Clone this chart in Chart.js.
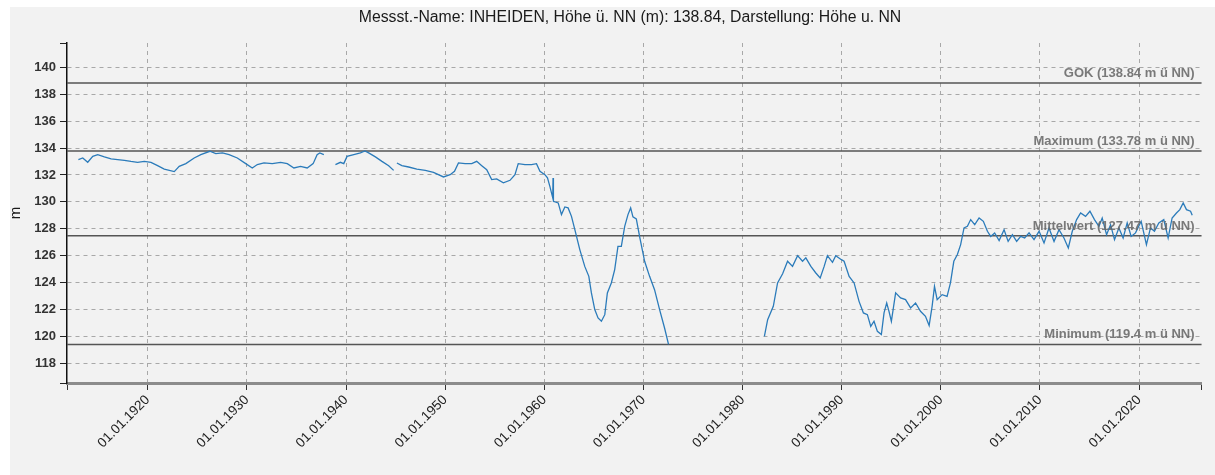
<!DOCTYPE html>
<html>
<head>
<meta charset="utf-8">
<title>Grundwasser INHEIDEN</title>
<script src="https://cdn.jsdelivr.net/npm/chart.js@4.4.1/dist/chart.umd.min.js"></script>
<style>
  html, body { margin: 0; padding: 0; background: #fff; }
  #wrap { width: 1215px; height: 475px; }
</style>
</head>
<body>
<div id="wrap"><canvas id="chart" width="1215" height="475"></canvas></div>
<script>
// Messwerte (Jahr als Dezimalzahl, Höhe in m ü NN), null = Lücke
const dates = [
  1913.0, 1913.44, 1913.94, 1914.45, 1914.95, 1915.62, 1916.3, 1916.96, 1917.64, 1918.3,
  1918.97, 1919.65, 1920.32, 1920.99, 1921.66, 1922.67, 1923.17, 1923.84, 1924.68, 1925.35,
  1926.26, 1926.86, 1927.53, 1928.2, 1929.03, 1929.88, 1930.54, 1931.05, 1931.72, 1932.56,
  1933.4, 1934.07, 1934.74, 1935.41, 1936.08, 1936.68, 1937.08, 1937.35, 1937.76, 1938.3,
  1938.93, 1939.43, 1939.77, 1940.1, 1940.78, 1941.45, 1941.9, 1942.28, 1942.96, 1943.62,
  1944.3, 1944.8, 1944.95, 1945.13, 1945.63, 1946.31, 1947.14, 1947.99, 1948.82, 1949.83,
  1950.5, 1950.94, 1951.34, 1952.01, 1952.68, 1953.18, 1953.69, 1954.19, 1954.69, 1955.19,
  1955.87, 1956.54, 1957.04, 1957.37, 1958.05, 1958.71, 1959.21, 1959.56, 1960.06, 1960.32,
  1960.56, 1960.85, 1960.88, 1960.92, 1961.4, 1961.73, 1962.07, 1962.4, 1962.74, 1963.08,
  1963.58, 1964.08, 1964.49, 1964.75, 1965.09, 1965.42, 1965.76, 1966.1, 1966.36, 1966.76,
  1967.1, 1967.43, 1967.77, 1968.11, 1968.44, 1968.71, 1968.94, 1969.28, 1969.61, 1970.12,
  1970.62, 1971.12, 1971.63, 1972.13, 1972.53, 1977.0,
  1982.2, 1982.53, 1983.1, 1983.53, 1984.04, 1984.54, 1985.04, 1985.55, 1986.05, 1986.38,
  1986.89, 1987.39, 1987.83, 1988.23, 1988.56, 1989.07, 1989.4, 1989.97, 1990.24, 1990.75,
  1991.25, 1991.75, 1992.19, 1992.59, 1992.93, 1993.26, 1993.6, 1994.0, 1994.27, 1994.54,
  1994.77, 1995.01, 1995.44, 1995.94, 1996.44, 1996.95, 1997.45, 1997.95, 1998.45, 1998.82,
  1999.12, 1999.36, 1999.63, 2000.13, 2000.63, 2000.97, 2001.31, 2001.67, 2002.0, 2002.34,
  2002.68, 2003.01, 2003.42, 2003.86, 2004.29, 2004.7, 2005.03, 2005.43, 2005.88, 2006.38,
  2006.79, 2007.22, 2007.65, 2008.06, 2008.46, 2008.9, 2009.4, 2009.91, 2010.41, 2010.91,
  2011.42, 2011.92, 2012.42, 2012.86, 2013.26, 2013.7, 2014.1, 2014.6, 2015.04, 2015.5,
  2015.95, 2016.28, 2016.72, 2017.12, 2017.52, 2017.96, 2018.39, 2018.8, 2019.2, 2019.64,
  2020.21, 2020.74, 2021.15, 2021.55, 2021.99, 2022.49, 2022.93, 2023.33, 2023.77, 2024.11,
  2024.45, 2024.78, 2025.19, 2025.36
];
const levels = [
  133.14, 133.26, 132.94, 133.38, 133.51, 133.34, 133.19, 133.14, 133.09, 133.01,
  132.94, 133.01, 132.94, 132.69, 132.44, 132.25, 132.64, 132.84, 133.26, 133.51,
  133.76, 133.58, 133.64, 133.51, 133.26, 132.84, 132.52, 132.77, 132.89, 132.84,
  132.94, 132.84, 132.52, 132.64, 132.52, 132.84, 133.51, 133.64, 133.51, null,
  132.77, 132.94, 132.84, 133.38, 133.51, 133.64, 133.78, 133.64, 133.34, 133.01,
  132.69, 132.34, null, 132.89, 132.69, 132.59, 132.44, 132.34, 132.19, 131.85,
  132.02, 132.27, 132.89, 132.84, 132.84, 133.01, 132.69, 132.39, 131.65, 131.70,
  131.41, 131.60, 132.02, 132.84, 132.77, 132.77, 132.84, 132.27, 132.02, 131.78,
  131.15, 130.30, 131.78, 130.04, 129.92, 129.05, 129.62, 129.55, 128.92, 127.93,
  126.45, 125.20, 124.46, 123.23, 121.99, 121.37, 121.12, 121.61, 123.23, 123.97,
  124.96, 126.69, 126.69, 128.18, 129.05, 129.55, 128.88, 128.73, 127.43, 125.58,
  124.46, 123.47, 121.99, 120.62, 119.40, null,
  120.00, 121.24, 122.23, 123.97, 124.65, 125.58, 125.20, 126.00, 125.58, 125.83,
  125.20, 124.71, 124.34, 125.20, 126.00, 125.50, 126.00, 125.70, 125.58, 124.46,
  123.97, 122.60, 121.74, 121.61, 120.74, 121.12, 120.37, 120.13, 121.74, 122.48,
  121.86, 121.12, 123.23, 122.86, 122.73, 122.11, 122.48, 121.86, 121.49, 120.80,
  122.23, 123.72, 122.73, 123.10, 122.97, 123.97, 125.58, 126.08, 126.82, 128.06,
  128.18, 128.68, 128.30, 128.80, 128.55, 127.81, 127.43, 127.69, 127.12, 127.93,
  127.06, 127.56, 127.06, 127.43, 127.31, 127.69, 127.19, 127.81, 126.94, 128.06,
  127.06, 127.93, 127.31, 126.57, 127.81, 128.68, 129.17, 128.92, 129.30, 128.68,
  128.18, 128.80, 127.56, 128.30, 127.19, 128.06, 127.31, 128.43, 127.43, 127.69,
  128.55, 126.82, 128.06, 127.81, 128.43, 128.68, 127.31, 128.80, 129.17, 129.42,
  129.92, 129.42, 129.30, 129.00
];

// Kennwerte (horizontale Linien)
const refNames = ['GOK', 'Maximum', 'Mittelwert', 'Minimum'];
const refValues = [138.84, 133.78, 127.47, 119.4];

// Achsen
const xTicks = [1920, 1930, 1940, 1950, 1960, 1970, 1980, 1990, 2000, 2010, 2020];
const yTicks = [118, 120, 122, 124, 126, 128, 130, 132, 134, 136, 138, 140];
const xMin = 1911.85, xMax = 2026.3;
const yMin = 116.53, yMax = 141.81;

const titleText = 'Messst.-Name: INHEIDEN, Höhe ü. NN (m): 138.84, Darstellung: Höhe u. NN';
const FONT = "'Liberation Sans', Arial, sans-serif";

// Hintergrund + Titel
const backdrop = {
  id: 'backdrop',
  beforeDraw(chart) {
    const ctx = chart.ctx;
    ctx.save();
    ctx.fillStyle = '#ffffff';
    ctx.fillRect(0, 0, chart.width, chart.height);
    ctx.fillStyle = '#f2f2f2';
    ctx.fillRect(10, 7, chart.width - 10, chart.height - 7);
    ctx.fillStyle = '#1a1a1a';
    ctx.font = '15.8px ' + FONT;
    ctx.textAlign = 'center';
    ctx.textBaseline = 'middle';
    ctx.fillText(titleText, 630, 18);
    ctx.translate(16, 213);
    ctx.rotate(-Math.PI / 2);
    ctx.font = '15px ' + FONT;
    ctx.fillText('m', 0, 0);
    ctx.restore();
  }
};

// GOK / Max / Mittel / Min
const refLines = {
  id: 'refLines',
  beforeDatasetsDraw(chart) {
    const { ctx, chartArea, scales: { y } } = chart;
    ctx.save();
    ctx.strokeStyle = '#555555';
    ctx.lineWidth = 1.5;
    refValues.forEach(v => {
      const py = y.getPixelForValue(v);
      ctx.beginPath();
      ctx.moveTo(chartArea.left, py);
      ctx.lineTo(chartArea.right, py);
      ctx.stroke();
    });
    ctx.restore();
  },
  afterDatasetsDraw(chart) {
    const { ctx, chartArea, scales: { y } } = chart;
    ctx.save();
    ctx.fillStyle = 'rgba(100,100,100,0.85)';
    ctx.font = 'bold 13px ' + FONT;
    ctx.textAlign = 'right';
    ctx.textBaseline = 'alphabetic';
    refValues.forEach((v, i) => {
      const py = y.getPixelForValue(v);
      ctx.fillText(refNames[i] + ' (' + v + ' m ü NN)', chartArea.right - 7, py - 6);
    });
    ctx.restore();
  }
};

const points = dates.map((d, i) => ({ x: d, y: levels[i] }));

new Chart(document.getElementById('chart').getContext('2d'), {
  type: 'line',
  data: {
    datasets: [{
      label: 'Höhe u. NN',
      data: points,
      borderColor: '#2b7bba',
      borderWidth: 1.3,
      pointRadius: 0,
      tension: 0,
      spanGaps: false
    }]
  },
  options: {
    responsive: false,
    animation: false,
    devicePixelRatio: 1,
    layout: { padding: { top: 43, right: 10, bottom: 0, left: 0 } },
    plugins: {
      legend: { display: false },
      title: { display: false },
      tooltip: { enabled: false }
    },
    scales: {
      x: {
        type: 'linear',
        min: xMin,
        max: xMax,
        afterBuildTicks: s => { s.ticks = [xMin, ...xTicks, xMax].map(v => ({ value: v })); },
        afterFit: s => { s.height = 92; },
        ticks: {
          autoSkip: false,
          minRotation: 45,
          maxRotation: 45,
          padding: 2,
          color: '#222',
          font: { family: FONT, size: 13.5 },
          callback: v => xTicks.includes(v) ? '01.01.' + v : ''
        },
        grid: {
          color: c => (c.tick && xTicks.includes(c.tick.value)) ? '#a8a8a8' : 'rgba(0,0,0,0)',
          tickColor: '#333',
          tickLength: 7,
          lineWidth: 1
        },
        border: { color: '#8c8c8c', width: 3, dash: [4, 4] }
      },
      y: {
        type: 'linear',
        min: yMin,
        max: yMax,
        afterBuildTicks: s => { s.ticks = [yMin, ...yTicks, yMax].map(v => ({ value: v })); },
        afterFit: s => { s.width = 67; },
        ticks: {
          padding: 4,
          color: '#333',
          font: { family: FONT, size: 13, weight: 'bold' },
          callback: v => yTicks.includes(v) ? String(v) : ''
        },
        grid: {
          color: c => (c.tick && yTicks.includes(c.tick.value)) ? '#a8a8a8' : 'rgba(0,0,0,0)',
          tickColor: '#222',
          tickLength: 7,
          lineWidth: 1
        },
        border: { color: '#111', width: 1.5, dash: [4, 4] }
      }
    }
  },
  plugins: [backdrop, refLines]
});
</script>
</body>
</html>
